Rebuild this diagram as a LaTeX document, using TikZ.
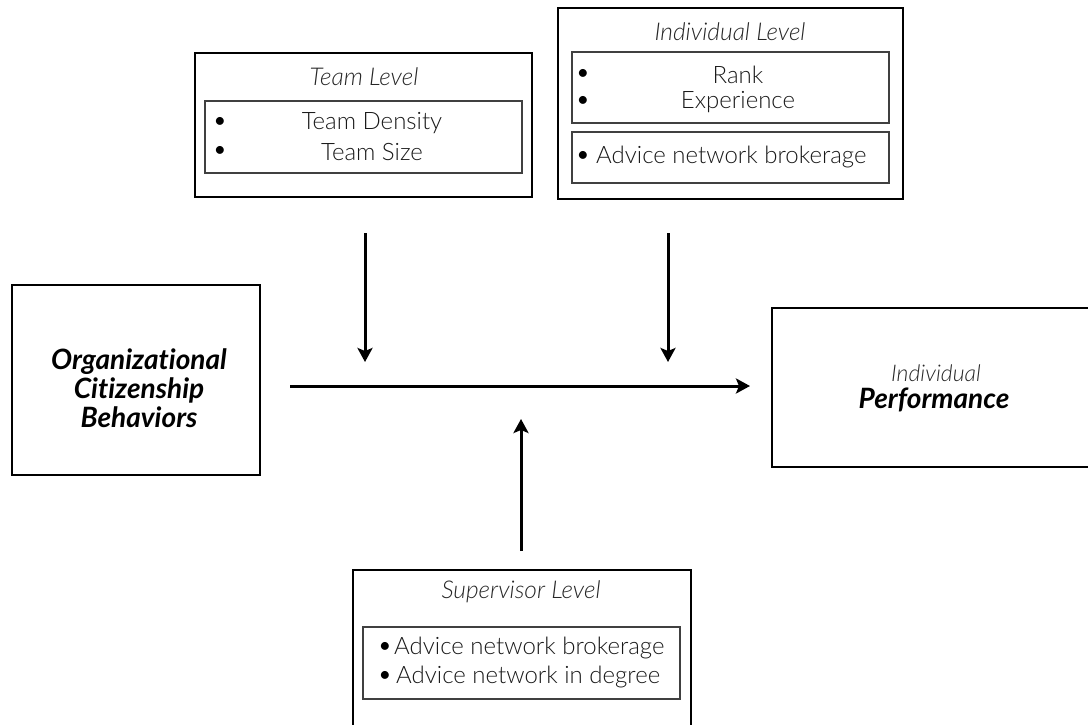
\documentclass[tikz,border=0pt]{standalone}
\usepackage{fontspec}
\setmainfont{Lato}[UprightFont={* Light},ItalicFont={* Light Italic},BoldFont={* Bold},BoldItalicFont={* Bold Italic},Ligatures=NoCommon]
\usetikzlibrary{arrows.meta}

\begin{document}
\begin{tikzpicture}[x=1pt,y=-1pt,
  outerbox/.style={draw=black, line width=2.2pt, inner sep=0pt},
  innerbox/.style={draw=black!75, line width=1.1pt, inner sep=0pt},
  title/.style={font=\fontsize{24.5}{28}\selectfont\itshape, text=black!85, inner sep=0pt},
  item/.style={font=\fontsize{24}{28}\selectfont, text=black!90, inner sep=0pt},
  dot/.style={font=\fontsize{27}{28}\selectfont, inner sep=0pt},
  keyterm/.style={font=\fontsize{28}{29}\selectfont\bfseries\itshape, align=center, inner sep=0pt},
  flow/.style={line width=3pt, -{Stealth[length=14pt,width=15pt,inset=3pt]}}]

\clip (0,0) rectangle (1088,725);

% Team level moderator
\node[outerbox, minimum width=337pt, minimum height=144pt] (team) at (363.5,125) {};
\node[title] (teamT) at (364,77) {Team Level};
\node[innerbox, minimum width=317pt, minimum height=72pt] (teamIn) at (363.5,137) {};
\node[dot] (tb1) at (220,123) {\textbullet};
\node[dot] (tb2) at (220,152) {\textbullet};
\node[item] (tDens) at (372,123) {Team Density};
\node[item] (tSize) at (372,152) {Team Size};

% Individual level moderator
\node[outerbox, minimum width=345pt, minimum height=191pt] (indiv) at (730.5,103.5) {};
\node[title] (indivT) at (730,32) {Individual Level};
\node[innerbox, minimum width=317pt, minimum height=71pt] (indivIn) at (730.5,87.5) {};
\node[innerbox, minimum width=317pt, minimum height=51pt] (indivIn2) at (730.5,157.5) {};
\node[dot] (ib1) at (583,75) {\textbullet};
\node[dot] (ib2) at (583,102) {\textbullet};
\node[item] (rank) at (738,75) {Rank};
\node[item] (exper) at (738,102) {Experience};
\node[dot] (ib3) at (583,157) {\textbullet};
\node[item, anchor=west] (iBrok) at (596,157) {Advice network brokerage};

% Antecedent and outcome
\node[outerbox, minimum width=248pt, minimum height=190pt] (ocb) at (136,380) {};
\node[keyterm] (ocbT) at (139,388) {Organizational\\Citizenship\\Behaviors};

\node[outerbox, minimum width=326pt, minimum height=159pt] (perf) at (935,387.5) {};
\node[title, font=\fontsize{23}{26}\selectfont\itshape] (perfA) at (936,373) {Individual};
\node[keyterm] (perfB) at (934,400) {Performance};

% Supervisor level moderator
\node[outerbox, minimum width=338pt, minimum height=170pt] (sup) at (522,655) {};
\node[title] (supT) at (521,592) {Supervisor Level};
\node[innerbox, minimum width=317pt, minimum height=72pt] (supIn) at (521.5,663) {};
\node[dot] (sb1) at (385,648) {\textbullet};
\node[dot] (sb2) at (385,677) {\textbullet};
\node[item, anchor=west] (sBrok) at (394,648) {Advice network brokerage};
\node[item, anchor=west] (sInd) at (396,677) {Advice network in degree};

% Main path and moderating arrows
\coordinate (pathStart) at (290,386);
\coordinate (pathEnd) at (750,386);
\coordinate (teamFrom) at (365,233);
\coordinate (teamTo) at (365,362);
\coordinate (indivFrom) at (668,233);
\coordinate (indivTo) at (668,362);
\coordinate (supFrom) at (521,551);
\coordinate (supTo) at (521,419);

\draw[flow] (pathStart) -- (pathEnd);
\draw[flow] (teamFrom) -- (teamTo);
\draw[flow] (indivFrom) -- (indivTo);
\draw[flow] (supFrom) -- (supTo);
\end{tikzpicture}
\end{document}
